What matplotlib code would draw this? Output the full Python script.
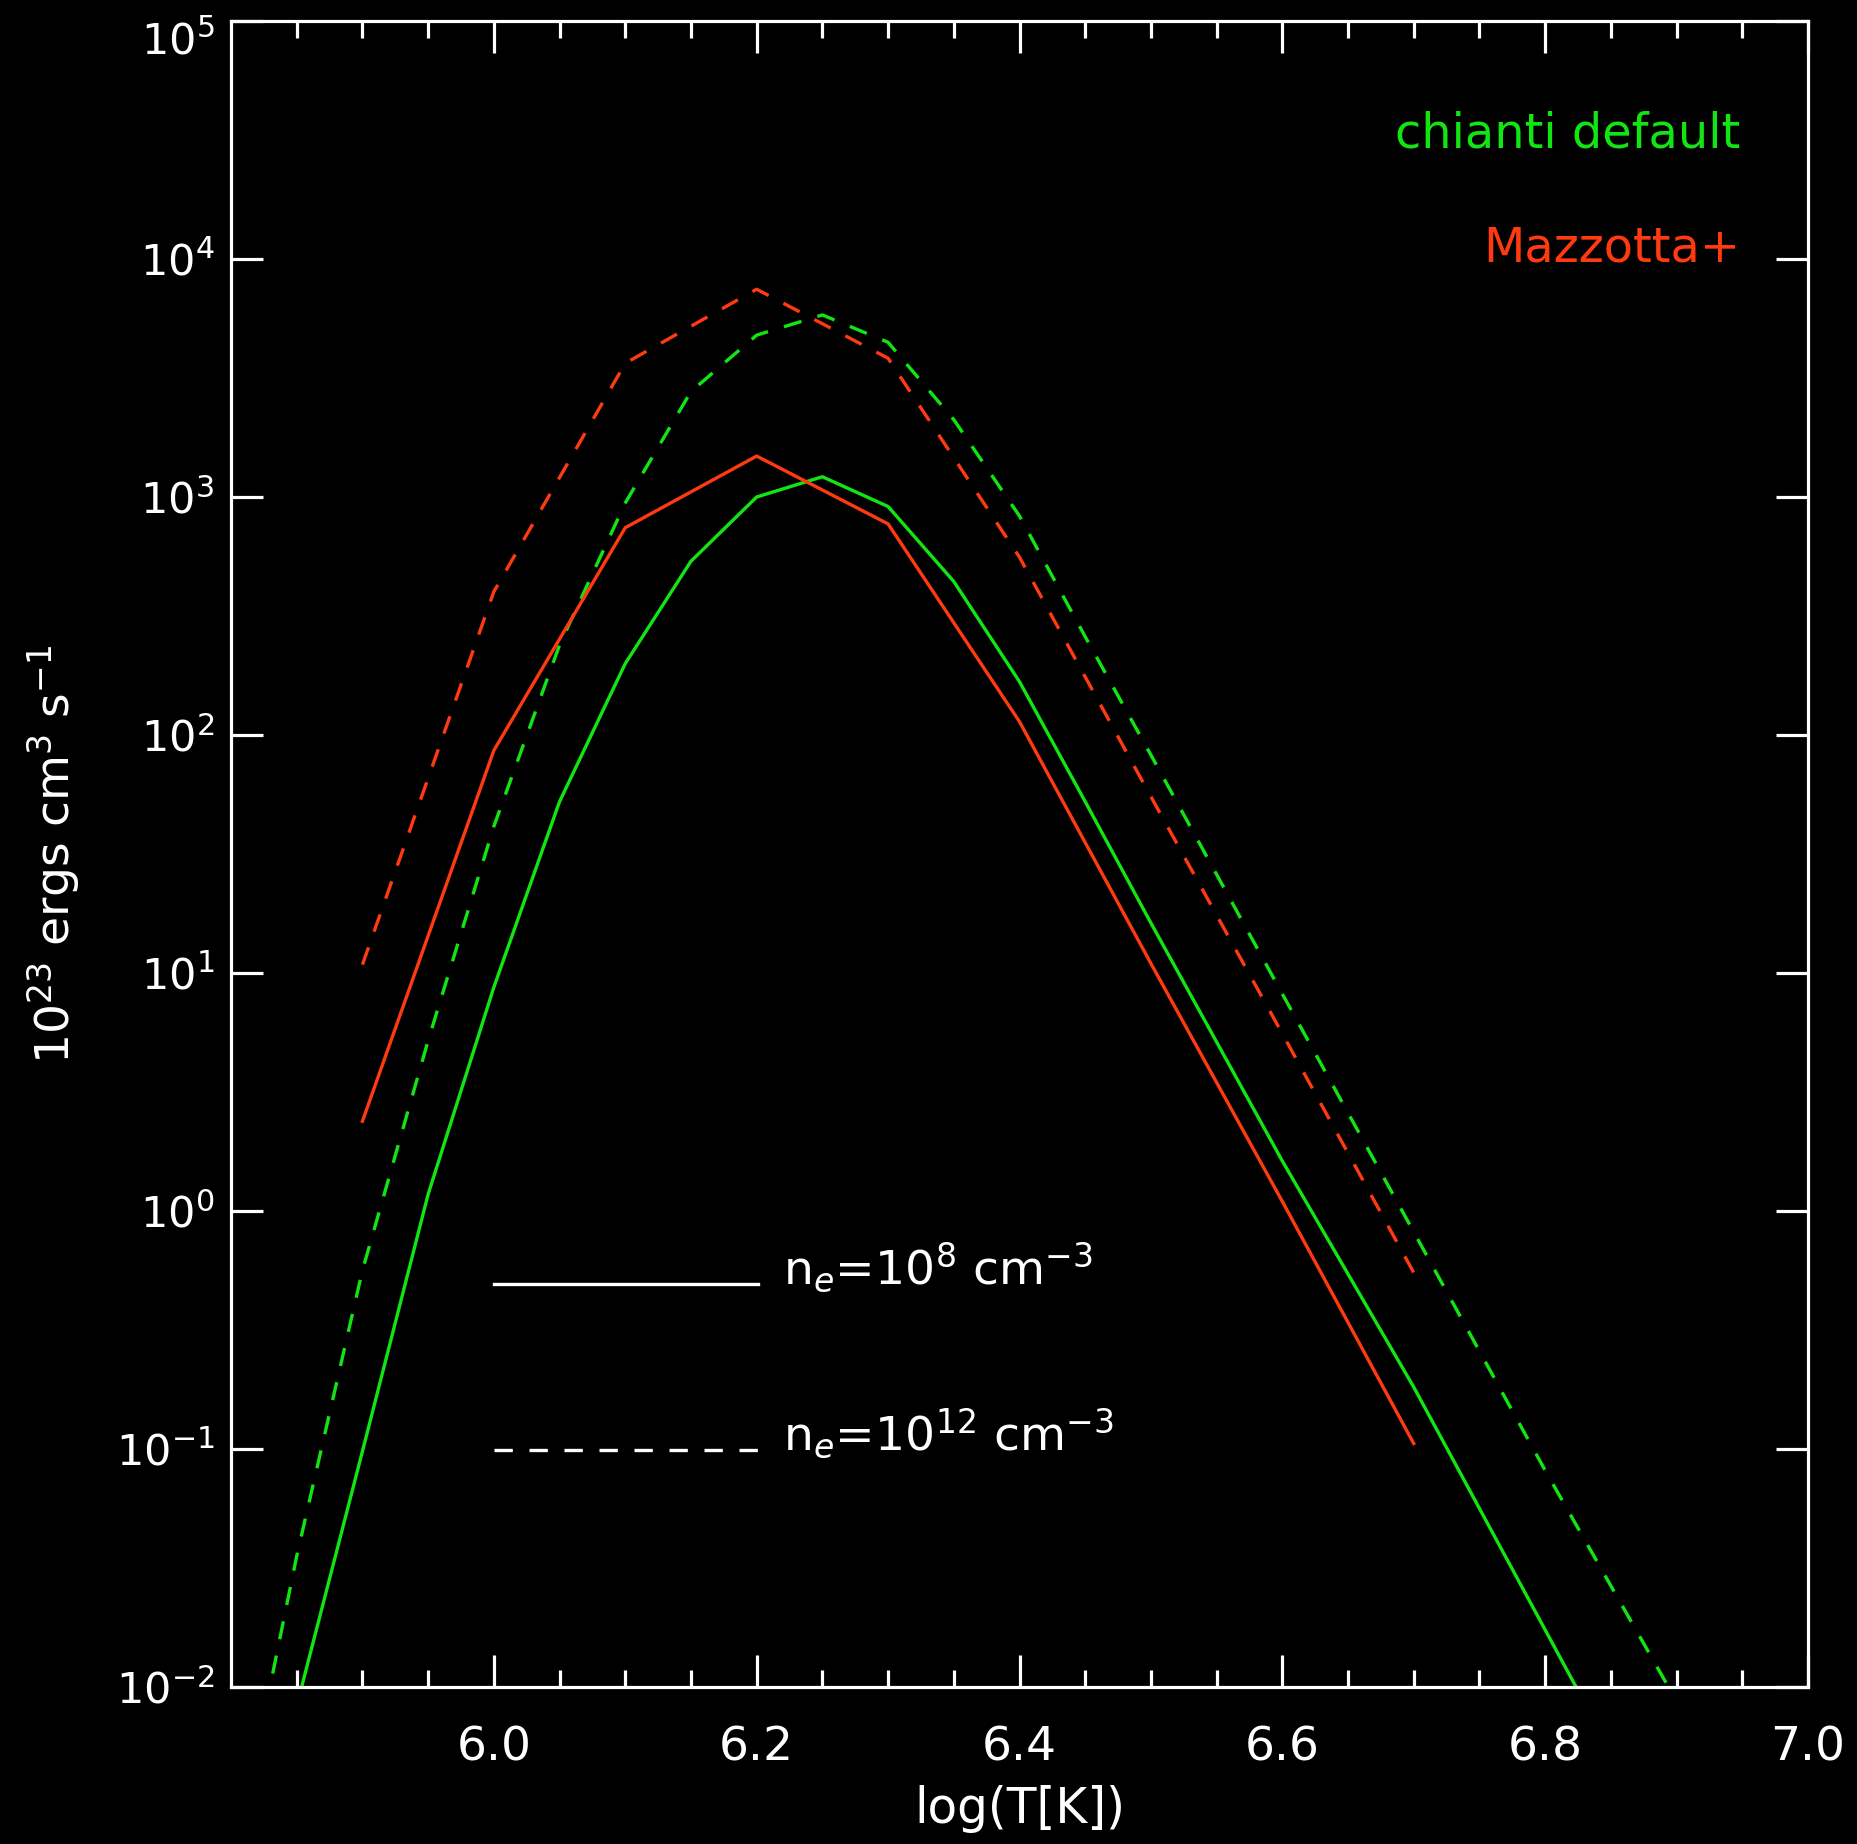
import numpy as np
import matplotlib
matplotlib.use("Agg")
import matplotlib.pyplot as plt
from matplotlib.ticker import FixedLocator, NullLocator, LogFormatterMathtext, FormatStrFormatter

# ---- data (log10 of contribution function, units 1e-23 erg cm^3 s^-1) ----
logT_chianti_lo = [5.85, 5.90, 5.95, 6.00, 6.05, 6.10, 6.15, 6.20, 6.25, 6.30,
                   6.35, 6.40, 6.45, 6.50, 6.60, 6.70, 6.80, 6.85]
chianti_lo_log = [-2.08, -1.01, 0.07, 0.94, 1.72, 2.30, 2.73, 3.00, 3.085, 2.96,
                  2.645, 2.224, 1.72, 1.21, 0.21, -0.74, -1.76, -2.27]

logT_chianti_hi = [5.80, 5.85, 5.90, 5.95, 6.00, 6.05, 6.10, 6.15, 6.20, 6.25,
                   6.30, 6.35, 6.40, 6.45, 6.50, 6.60, 6.70, 6.80, 6.90]
chianti_hi_log = [-2.8, -1.45, -0.25, 0.716, 1.616, 2.378, 2.975, 3.443, 3.68, 3.765,
                  3.65, 3.325, 2.92, 2.413, 1.916, 0.912, -0.088, -1.09, -2.06]

logT_mazz = [5.9, 6.0, 6.1, 6.2, 6.3, 6.4, 6.5, 6.6, 6.7]
mazz_lo_log = [0.377, 1.935, 2.871, 3.172, 2.887, 2.056, 1.04, 0.04, -0.977]
mazz_hi_log = [1.035, 2.602, 3.562, 3.873, 3.583, 2.747, 1.741, 0.745, -0.259]

xticks_major = [6.0, 6.2, 6.4, 6.6, 6.8, 7.0]
yticks_major = [1e-2, 1e-1, 1e0, 1e1, 1e2, 1e3, 1e4, 1e5]
series_labels = ["chianti default", "Mazzotta+"]
density_labels = [r"n$_e$=10$^8$ cm$^{-3}$", r"n$_e$=10$^{12}$ cm$^{-3}$"]

GREEN = "#12e612"
RED = "#ff3a10"
WHITE = "white"

W, H = 1857, 1844
fig = plt.figure(figsize=(W / 100, H / 100), dpi=100, facecolor="black")
ax = fig.add_axes([231 / W, 1 - 1687 / H, (1808 - 231) / W, (1687 - 21) / H])
ax.set_facecolor("black")

lw = 2.4
dash = (0, (5.5, 5))
ax.plot(logT_chianti_lo, 10 ** np.array(chianti_lo_log), color=GREEN, lw=lw)
ax.plot(logT_chianti_hi, 10 ** np.array(chianti_hi_log), color=GREEN, lw=lw, linestyle=dash)
ax.plot(logT_mazz, 10 ** np.array(mazz_lo_log), color=RED, lw=lw)
ax.plot(logT_mazz, 10 ** np.array(mazz_hi_log), color=RED, lw=lw, linestyle=dash)

ax.set_yscale("log")
ax.set_xlim(5.8, 7.0)
ax.set_ylim(1e-2, 1e5)

ax.xaxis.set_major_locator(FixedLocator(xticks_major))
ax.xaxis.set_minor_locator(FixedLocator(np.arange(5.85, 7.0, 0.05)))
ax.xaxis.set_major_formatter(FormatStrFormatter("%.1f"))
ax.yaxis.set_major_locator(FixedLocator(yticks_major))
ax.yaxis.set_minor_locator(NullLocator())
ax.yaxis.set_major_formatter(LogFormatterMathtext())

for sp in ax.spines.values():
    sp.set_color(WHITE)
    sp.set_linewidth(2.3)

ax.tick_params(which="both", direction="in", colors=WHITE, top=True, right=True,
               width=2.3)
ax.tick_params(which="major", length=23)
ax.tick_params(which="minor", length=12)
ax.tick_params(axis="x", which="major", labelsize=34, pad=28)
ax.tick_params(axis="y", which="major", labelsize=31, pad=12)

ax.set_xlabel("log(T[K])", color=WHITE, fontsize=35, labelpad=10)
ax.set_ylabel(r"10$^{23}$ ergs cm$^3$ s$^{-1}$", color=WHITE, fontsize=34, labelpad=24)

# series labels (top right)
ax.text(0.957, 0.924, series_labels[0], color=GREEN, fontsize=34.5,
        ha="right", va="baseline", transform=ax.transAxes)
ax.text(0.957, 0.8555, series_labels[1], color=RED, fontsize=34.5,
        ha="right", va="baseline", transform=ax.transAxes)

# line-style key
ax.plot([0.1668, 0.3342], [0.2419, 0.2419], color=WHITE, lw=lw, transform=ax.transAxes)
ax.plot([0.1668, 0.3342], [0.1423, 0.1423], color=WHITE, lw=lw, linestyle=dash,
        transform=ax.transAxes)
ax.text(0.3498, 0.2419, density_labels[0], color=WHITE, fontsize=34,
        ha="left", va="baseline", transform=ax.transAxes)
ax.text(0.3498, 0.1423, density_labels[1], color=WHITE, fontsize=34,
        ha="left", va="baseline", transform=ax.transAxes)

# keep the top y tick label inside the figure (as in the reference)
fig.canvas.draw()
for tick in ax.yaxis.get_major_ticks():
    if np.isclose(tick.get_loc(), yticks_major[-1]):
        tick.label1.set_verticalalignment("top")
        tick.label1.set_y(tick.label1.get_position()[1])

fig.savefig("out.png", dpi=100, facecolor="black")
